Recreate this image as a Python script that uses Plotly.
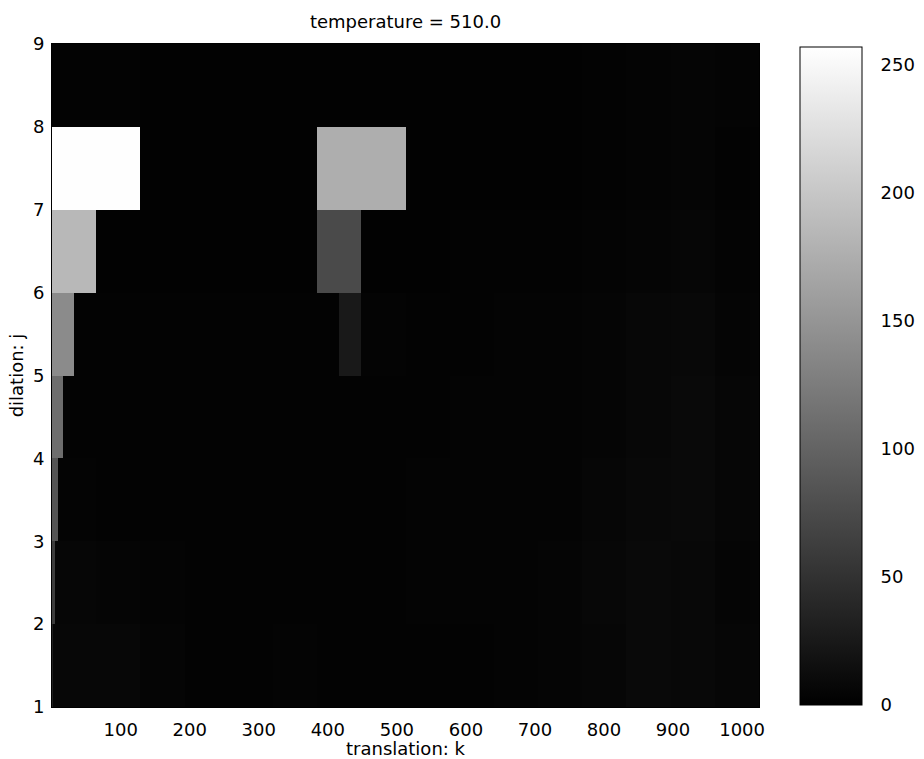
import numpy as np
import plotly.graph_objects as go

# ---------------- data ----------------
N_K = 1024                      # translation samples k = 1..1024
levels = [1, 2, 3, 4, 5, 6, 7, 8]   # dilation j, row j spans [j, j+1]

# background magnitude per level, in 16 regions of 64 samples each
bg_level1 = [7, 7, 5, 3, 3, 4, 3, 3, 3, 3, 4, 5, 6, 9, 8, 6]
bg_level2 = [6, 5, 4, 3, 3, 3, 3, 3, 4, 4, 4, 5, 7, 9, 8, 5]
bg_level3 = [4, 3, 3, 3, 3, 3, 3, 3, 4, 4, 4, 4, 6, 8, 9, 6]
bg_level4 = [3, 3, 3, 3, 3, 3, 3, 3, 3, 4, 4, 4, 5, 7, 9, 6]
bg_level5 = [3, 3, 3, 3, 3, 3, 3, 4, 3, 3, 4, 4, 5, 7, 8, 5]
bg_level6 = [2, 2, 2, 2, 2, 2, 2, 2, 2, 3, 3, 3, 4, 5, 6, 4]
bg_level7 = [2, 2, 2, 2, 2, 2, 3, 3, 2, 2, 2, 2, 3, 4, 5, 3]
bg_level8 = [3, 3, 2, 2, 2, 2, 2, 2, 2, 2, 2, 2, 3, 4, 5, 4]

# large coefficients: (coefficient index, magnitude); coefficient width = 2**j
big_level1 = [(0, 30)]
big_level2 = [(0, 60)]
big_level3 = [(0, 85)]
big_level4 = [(0, 110)]
big_level5 = [(0, 140), (13, 25)]
big_level6 = [(0, 185), (6, 75)]
big_level7 = [(0, 256), (3, 175)]
big_level8 = []

x_ticks = [100, 200, 300, 400, 500, 600, 700, 800, 900, 1000]
y_ticks = [1, 2, 3, 4, 5, 6, 7, 8, 9]
cbar_ticks = [0, 50, 100, 150, 200, 250]
title_text = "temperature = 510.0"

# ---------------- build image ----------------
bgs = [bg_level1, bg_level2, bg_level3, bg_level4,
       bg_level5, bg_level6, bg_level7, bg_level8]
bigs = [big_level1, big_level2, big_level3, big_level4,
        big_level5, big_level6, big_level7, big_level8]

z = []
for j, bg, big in zip(levels, bgs, bigs):
    row = np.repeat(np.array(bg, dtype=float), N_K // len(bg))
    w = 2 ** j
    for idx, val in big:
        row[idx * w:(idx + 1) * w] = val
    z.append(row)
z = np.array(z)

k = np.arange(1, N_K + 1)
yc = np.array(levels) + 0.5

font = "DejaVu Sans, Liberation Sans, Arial, sans-serif"
FS = 18

fig = go.Figure(go.Heatmap(
    x=k, y=yc, z=z,
    colorscale=[[0, "rgb(0,0,0)"], [1, "rgb(255,255,255)"]],
    zmin=0, zmax=257,
    showscale=True,
    colorbar=dict(
        x=(800 - 52) / 707, xanchor="left", xpad=0,
        y=2 / 663, yanchor="bottom", ypad=0,
        lenmode="pixels", len=658,
        thicknessmode="pixels", thickness=62,
        outlinecolor="black", outlinewidth=1,
        tickvals=cbar_ticks,
        ticks="outside", ticklen=15, tickcolor="rgba(0,0,0,0)",
        tickfont=dict(family=font, size=FS, color="black"),
    ),
))

fig.update_layout(
    width=924, height=759,
    margin=dict(l=52, r=165, t=44, b=52, autoexpand=False),
    paper_bgcolor="white", plot_bgcolor="black",
    title=dict(text=title_text, x=(52 + 759) / 2 / 924, xanchor="center",
               y=1 - 22 / 759, yanchor="middle",
               font=dict(family=font, size=FS, color="black")),
    font=dict(family=font, size=FS, color="black"),
)
fig.update_xaxes(
    range=[0.5, N_K + 0.5], tickvals=x_ticks,
    ticks="outside", ticklen=6, tickcolor="rgba(0,0,0,0)",
    showgrid=False, zeroline=False,
    showline=True, linecolor="black", linewidth=1, mirror=True,
    title=dict(text="translation: k", standoff=0,
               font=dict(family=font, size=FS)),
    tickfont=dict(family=font, size=FS),
)
fig.update_yaxes(
    range=[1, 9], tickvals=y_ticks,
    ticks="outside", ticklen=3, tickcolor="rgba(0,0,0,0)",
    showgrid=False, zeroline=False,
    showline=True, linecolor="black", linewidth=1, mirror=True,
    title=dict(text="dilation: j", standoff=4,
               font=dict(family=font, size=FS)),
    tickfont=dict(family=font, size=FS),
)

fig.write_html("out.html")
